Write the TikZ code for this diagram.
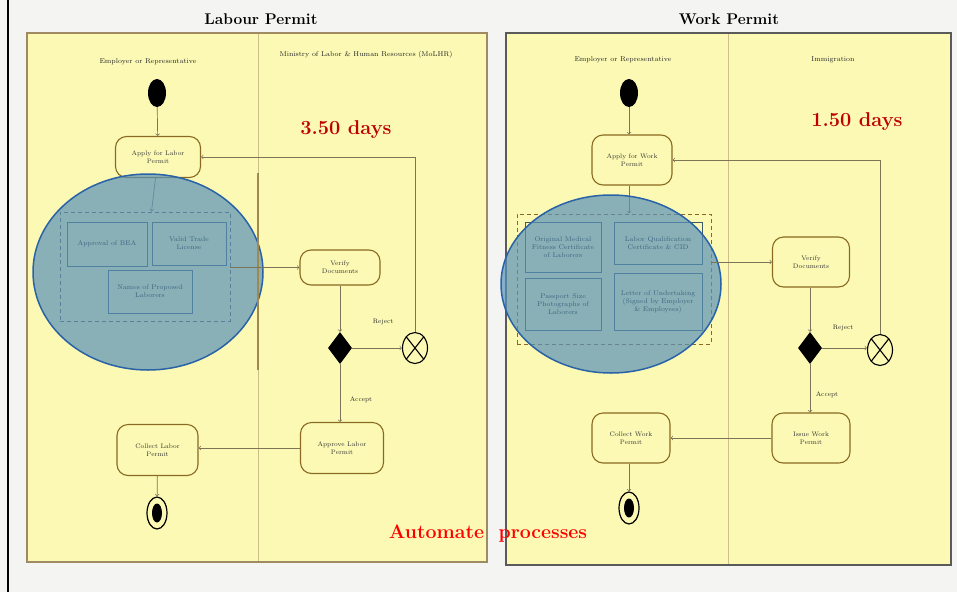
\documentclass[tikz,border=0pt]{standalone}
\usepackage{xcolor}
\usepackage{tikz}
\usetikzlibrary{shapes,arrows,positioning}

\definecolor{pagebg}{HTML}{F4F4F2}
\definecolor{laneyellow}{HTML}{FBF9B4}
\definecolor{framebrown}{HTML}{A08A62}
\definecolor{framegray}{HTML}{5A5A58}
\definecolor{laneline}{HTML}{CDBE8C}
\definecolor{actbrown}{HTML}{8A6A22}
\definecolor{flowgray}{HTML}{7E7458}
\definecolor{blobfill}{HTML}{5892B8}
\definecolor{blobline}{HTML}{2A62A8}
\definecolor{docline}{HTML}{3E5A68}
\definecolor{daysred}{HTML}{C00000}

\begin{document}
\begin{tikzpicture}[x=1pt, y=-1pt,
    act/.style={rectangle, rounded corners=11pt, draw=actbrown, line width=1.1pt, fill=laneyellow,
        align=center, inner sep=1pt, text=black!80, font=\fontsize{6.5}{8}\selectfont},
    doc/.style={rectangle, draw=docline, line width=1pt, fill=laneyellow, align=center,
        inner sep=1pt, text=black, font=\fontsize{6.8}{8}\selectfont},
    docgroup/.style={rectangle, draw=black!65, dashed, line width=0.9pt, dash pattern=on 4pt off 3pt},
    blob/.style={ellipse, draw=blobline, line width=1.5pt, fill=blobfill, fill opacity=0.7},
    startdot/.style={ellipse, fill=black, minimum width=18pt, minimum height=28pt, inner sep=0pt},
    endring/.style={ellipse, draw=black, line width=1.2pt, minimum width=20pt, minimum height=32pt, inner sep=0pt},
    enddot/.style={ellipse, fill=black, minimum width=10pt, minimum height=19pt, inner sep=0pt},
    decision/.style={diamond, fill=black, minimum width=24pt, minimum height=32pt, inner sep=0pt},
    rejectx/.style={ellipse, draw=black, line width=1.1pt, minimum width=25pt, minimum height=31pt, inner sep=0pt},
    flow/.style={->, draw=flowgray, line width=0.7pt},
    lanehead/.style={text=black!85, font=\fontsize{7}{8}\selectfont},
    guard/.style={text=black!85, font=\fontsize{6.5}{7}\selectfont},
    title/.style={font=\fontsize{15.5}{17}\selectfont\bfseries},
    days/.style={text=daysred, font=\fontsize{20}{22}\selectfont\bfseries}]

    % page
    \useasboundingbox (0,0) rectangle (957,592);
    \fill[pagebg] (0,0) rectangle (957,592);
    \draw[line width=2pt] (8,0) -- (8,592);

    \node[title] (labtitle) at (261,19) {Labour Permit};
    \node[title] (worktitle) at (729,19) {Work Permit};

    %% ---------------- labour permit ----------------
    \draw[framebrown, line width=2pt, fill=laneyellow] (27,33) rectangle (487,562);
    \draw[laneline, line width=0.8pt] (258,34) -- (258,561);
    \node[lanehead] (lemp) at (148,62) {Employer or Representative};
    \node[lanehead] (lmin) at (366,55) {Ministry of Labor \& Human Resources (MoLHR)};

    \node[startdot] (lstart) at (157,93) {};
    \node[act, minimum width=85pt, minimum height=41pt] (lapply) at (158,157) {Apply for Labor\\Permit};
    \draw[flow] (lstart) -- (lapply);

    \node[docgroup, minimum width=170pt, minimum height=109pt] (lreqs) at (145,266.5) {};
    \node[doc, minimum width=80pt, minimum height=44pt] (bea) at (107,244) {Approval of BEA};
    \node[doc, minimum width=74pt, minimum height=43pt] (trade) at (189,243.5) {Valid Trade\\License};
    \node[doc, minimum width=84pt, minimum height=43pt] (names) at (150,291.5) {Names of Proposed\\Laborers};
    \draw[flow] (lapply) -- (lreqs);
    \node[blob, minimum width=230pt, minimum height=196pt] (lblob) at (148,272) {};
    \draw[actbrown!80, line width=2.2pt] (258,173) -- (258,370);

    \node[act, minimum width=80pt, minimum height=35pt] (lverify) at (340,267.5) {Verify\\Documents};
    \draw[flow] (lreqs.east |- lverify.west) -- (lverify.west);
    \node[decision] (ldec) at (340,348) {};
    \draw[flow] (lverify) -- (ldec);
    \node[rejectx] (lrej) at (415,348) {};
    \draw[line width=1.1pt] (lrej.52) -- (lrej.232) (lrej.128) -- (lrej.308);
    \draw[flow] (ldec) -- (lrej);
    \node[guard] (lrejlab) at (383,322) {Reject};
    \draw[flow] (lrej.north) |- (lapply.east);

    \node[act, minimum width=83pt, minimum height=51pt] (lapprove) at (342,448) {Approve Labor\\Permit};
    \draw[flow] (ldec.south) -- (ldec.south |- lapprove.north);
    \node[guard] (lacclab) at (361,400) {Accept};
    \node[act, minimum width=81pt, minimum height=51pt] (lcollect) at (157.5,450) {Collect Labor\\Permit};
    \draw[flow] (lapprove.west) -- (lapprove.west -| lcollect.east);
    \node[endring] (lend) at (157,513) {};
    \node[enddot] at (lend) {};
    \draw[flow] (lcollect) -- (lend);

    \node[days] (ldays) at (346,130) {3.50 days};

    %% ---------------- work permit ----------------
    \draw[framegray, line width=2pt, fill=laneyellow] (506,33) rectangle (951,565);
    \draw[laneline, line width=0.8pt] (728,34) -- (728,564);
    \node[lanehead] (wemp) at (623,60) {Employer or Representative};
    \node[lanehead] (wimm) at (833,60) {Immigration};

    \node[startdot] (wstart) at (629,93) {};
    \node[act, minimum width=80pt, minimum height=50pt] (wapply) at (632,160) {Apply for Work\\Permit};
    \draw[flow] (wstart.south) -- (wstart.south |- wapply.north);

    \node[docgroup, draw=actbrown, minimum width=194pt, minimum height=130pt] (wreqs) at (614,279) {};
    \node[doc, minimum width=76pt, minimum height=50pt] (medical) at (563,247) {Original Medical\\Fitness Certificate\\of Laborers};
    \node[doc, minimum width=88pt, minimum height=42pt] (qualif) at (658,243) {Labor Qualification\\Certificate \& CID};
    \node[doc, minimum width=76pt, minimum height=52pt] (photos) at (563,304) {Passport Size\\Photographs of\\Laborers};
    \node[doc, minimum width=88pt, minimum height=57pt] (undertake) at (658,301.5) {Letter of Undertaking\\(Signed by Employer\\\& Employees)};
    \draw[flow] (wapply.south -| wstart) -- (wreqs.north -| wstart);
    \node[blob, minimum width=220pt, minimum height=178pt] (wblob) at (611,284) {};

    \node[act, minimum width=77pt, minimum height=50pt] (wverify) at (811,262) {Verify\\Documents};
    \draw[flow] (wreqs.east |- wverify.west) -- (wverify.west);
    \node[decision] (wdec) at (810,348) {};
    \draw[flow] (wverify.south -| wdec.north) -- (wdec.north);
    \node[rejectx] (wrej) at (880,350) {};
    \draw[line width=1.1pt] (wrej.52) -- (wrej.232) (wrej.128) -- (wrej.308);
    \draw[flow] (wdec) -- (wdec -| wrej.west);
    \node[guard] (wrejlab) at (843,328) {Reject};
    \draw[flow] (wrej.north) |- (wapply.east);

    \node[act, minimum width=78pt, minimum height=50pt] (wissue) at (811,438) {Issue Work\\Permit};
    \draw[flow] (wdec.south) -- (wdec.south |- wissue.north);
    \node[guard] (wacclab) at (827,395) {Accept};
    \node[act, minimum width=78pt, minimum height=50pt] (wcollect) at (631,438) {Collect Work\\Permit};
    \draw[flow] (wissue) -- (wcollect);
    \node[endring] (wend) at (629,508) {};
    \node[enddot] at (wend) {};
    \draw[flow] (wcollect.south -| wend.north) -- (wend.north);

    \node[days] (wdays) at (857,122) {1.50 days};

    \node[text=red, font=\fontsize{19.5}{21}\selectfont\bfseries] (automate) at (488,534) {Automate\ \ processes};
\end{tikzpicture}
\end{document}
